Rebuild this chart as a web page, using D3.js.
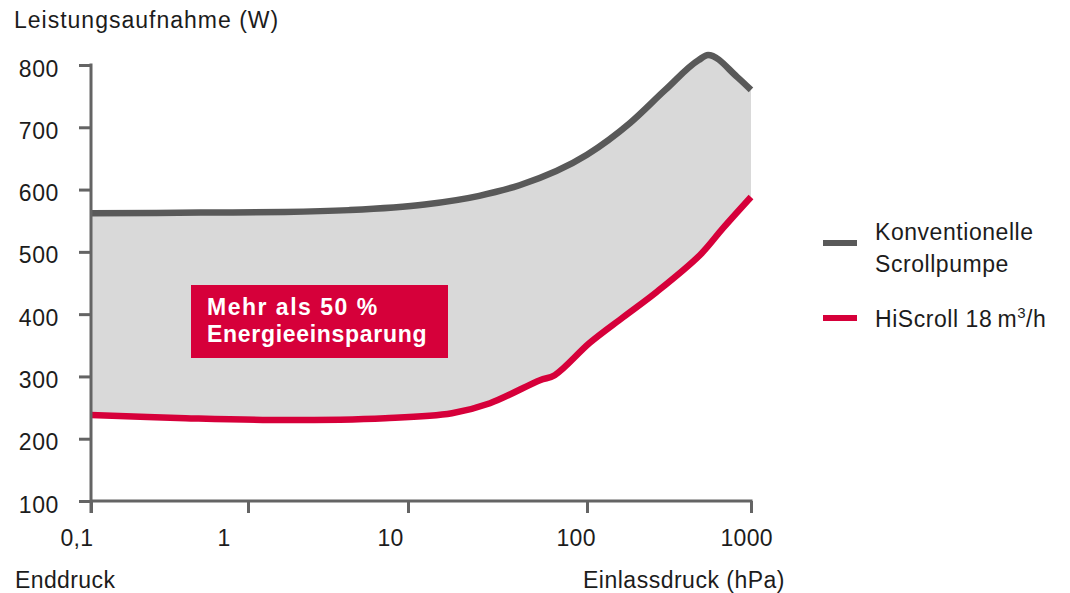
<!DOCTYPE html>
<html>
<head>
<meta charset="utf-8">
<script src="https://cdn.jsdelivr.net/npm/d3@7"></script>
<style>
  html, body { margin: 0; padding: 0; background: #fff; }
  svg { display: block; font-family: "Liberation Sans", Arial, Helvetica, sans-serif; }
</style>
</head>
<body>
<svg id="chart" width="1070" height="593"></svg>
<script>
// ---------- data ----------
const xTickValues = [0.1, 1, 10, 100, 1000];
const xTickLabels = ["0,1", "1", "10", "100", "1000"];
const yTickValues = [100, 200, 300, 400, 500, 600, 700, 800];

// Konventionelle Scrollpumpe
const konvPressure = [0.1, 0.5, 1.7, 4.3, 12.4, 25, 42, 100, 183, 300, 480, 547, 822, 1000];
const konvPower    = [562, 563, 564, 567, 576, 590, 607, 656, 707, 760, 808, 816, 781, 760];

// HiScroll 18 m³/h
const hiPressure = [0.1, 0.4, 1.7, 7.2, 17.6, 28.7, 54.6, 66, 104, 166, 267, 489, 675, 1000];
const hiPower    = [238, 233, 230, 233, 241, 257, 294, 302, 354, 395, 436, 495, 538, 588];

const yTitle = "Leistungsaufnahme (W)";
const xTitleLeft = "Enddruck";
const xTitleRight = "Einlassdruck (hPa)";
const annotationLines = ["Mehr als 50 %", "Energieeinsparung"];

// ---------- styles ----------
const RED = "#d6003a";
const GRAY_LINE = "#595959";
const FILL = "#d9d9d9";
const AXIS = "#646464";
const TEXT = "#1c1c1c";
const FONT = "'Liberation Sans', Arial, Helvetica, sans-serif";

const svg = d3.select("#chart");

const x = d3.scaleLog()
  .domain(xTickValues)
  .range([91, 248, 408, 587, 751]);
const y = d3.scaleLinear().domain([100, 800]).range([501, 65]);

const konv = konvPressure.map((p, i) => ({p, v: konvPower[i]}));
const hi = hiPressure.map((p, i) => ({p, v: hiPower[i]}));

const curveKonv = d3.curveMonotoneX;
const curveHi = d3.curveCatmullRom.alpha(0.5);
const lineKonv = d3.line().x(d => x(d.p)).y(d => y(d.v)).curve(curveKonv);
const lineHi = d3.line().x(d => x(d.p)).y(d => y(d.v)).curve(curveHi);

// clip: region above the red line
svg.append("clipPath").attr("id", "aboveRed")
  .append("path")
  .attr("d", d3.area().x(d => x(d.p)).y0(0).y1(d => y(d.v)).curve(curveHi)(hi));

// fill between curves
svg.append("path")
  .attr("d", d3.area().x(d => x(d.p)).y0(y(100)).y1(d => y(d.v)).curve(curveKonv)(konv))
  .attr("fill", FILL)
  .attr("clip-path", "url(#aboveRed)");

// lines
svg.append("path").attr("d", lineKonv(konv))
  .attr("fill", "none").attr("stroke", GRAY_LINE).attr("stroke-width", 6.5);
svg.append("path").attr("d", lineHi(hi))
  .attr("fill", "none").attr("stroke", RED).attr("stroke-width", 6.5);

// ---------- axes ----------
const yAxis = svg.append("g").attr("transform", `translate(${x(0.1)},0)`)
  .call(d3.axisLeft(y).tickValues(yTickValues).tickSize(12).tickSizeOuter(0).tickPadding(20));
yAxis.select(".domain").remove();
yAxis.selectAll(".tick line").attr("stroke", AXIS).attr("stroke-width", 3);
yAxis.selectAll(".tick text")
  .attr("dy", 0).attr("y", 11)
  .attr("fill", TEXT).style("font-size", "23px").style("letter-spacing", "0.6px")
  .style("font-family", FONT);

const xAxis = svg.append("g").attr("transform", `translate(0,${y(100)})`)
  .call(d3.axisBottom(x).tickValues(xTickValues).tickFormat((d, i) => xTickLabels[i])
    .tickSize(12).tickSizeOuter(0));
xAxis.select(".domain").remove();
xAxis.selectAll(".tick line").attr("stroke", AXIS).attr("stroke-width", 3);
xAxis.selectAll(".tick text")
  .attr("dy", 0).attr("y", 45).attr("x", -31)
  .attr("text-anchor", "start")
  .attr("fill", TEXT).style("font-size", "23px").style("letter-spacing", "0.3px")
  .style("font-family", FONT);

// axis lines
svg.append("line")
  .attr("x1", x(0.1)).attr("x2", x(0.1)).attr("y1", y(800) - 1.5).attr("y2", y(100) + 12)
  .attr("stroke", AXIS).attr("stroke-width", 3);
svg.append("line")
  .attr("x1", x(0.1)).attr("x2", x(1000) + 1.5).attr("y1", y(100)).attr("y2", y(100))
  .attr("stroke", AXIS).attr("stroke-width", 3);

// titles
const txt = (s, xx, yy, opts = {}) => svg.append("text")
  .attr("x", xx).attr("y", yy).text(s)
  .attr("fill", opts.fill || TEXT)
  .style("font-size", (opts.size || 23) + "px")
  .style("font-weight", opts.weight || "normal")
  .style("letter-spacing", (opts.ls != null ? opts.ls : 0.5) + "px");

txt(yTitle, 14, 28, {ls: 1.0});
txt(xTitleLeft, 15, 588, {ls: 0.4});
txt(xTitleRight, 583, 588, {ls: 0.5});

// annotation box
svg.append("rect").attr("x", 191).attr("y", 285).attr("width", 257).attr("height", 73).attr("fill", RED);
txt(annotationLines[0], 207, 315, {fill: "#fff", weight: "bold", ls: 1.5});
txt(annotationLines[1], 207, 342, {fill: "#fff", weight: "bold", ls: 0.7});

// legend
svg.append("line").attr("x1", 823).attr("x2", 857).attr("y1", 243).attr("y2", 243)
  .attr("stroke", GRAY_LINE).attr("stroke-width", 6);
txt("Konventionelle", 875, 240, {ls: 0.55});
txt("Scrollpumpe", 875, 272, {ls: 0.55});

svg.append("line").attr("x1", 823).attr("x2", 857).attr("y1", 318).attr("y2", 318)
  .attr("stroke", RED).attr("stroke-width", 6);
const hiLabel = txt("HiScroll 18\u2009m", 875, 327, {ls: 0.55});
hiLabel.append("tspan").text("3").attr("dy", -9).style("font-size", "15px");
hiLabel.append("tspan").text("/h").attr("dy", 9);
</script>
</body>
</html>
